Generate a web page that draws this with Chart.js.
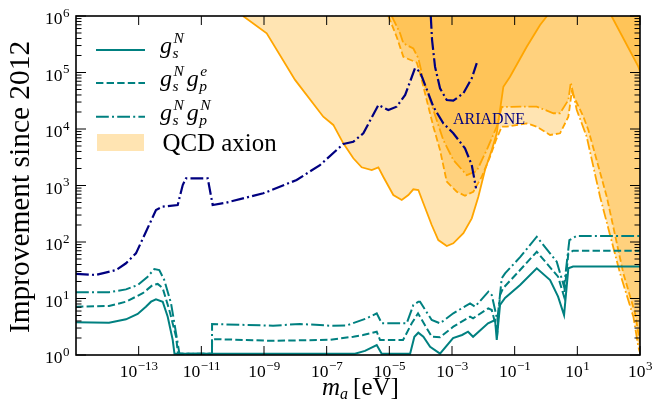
<!DOCTYPE html>
<html>
<head>
<meta charset="utf-8">
<script src="https://cdn.jsdelivr.net/npm/chart.js@4.4.0/dist/chart.umd.min.js"></script>
<style>
  html, body { margin: 0; padding: 0; background: #fff; }
  canvas { display: block; }
</style>
</head>
<body>
<canvas id="chart" width="655" height="407" style="width:655px;height:407px"></canvas>
<script>
// axis ranges and ticks
const massRange = [1e-15, 1e3];
const improveRange = [1, 1e6];
const xTickExps = [-13, -11, -9, -7, -5, -3, -1, 1, 3];
const yTickExps = [0, 1, 2, 3, 4, 5, 6];

// g_s^N (teal solid)
const gsMass = [1e-15, 1.13e-14, 3.94e-14, 9.3e-14, 1.7e-13, 2.48e-13, 3.57e-13, 5.85e-13, 8.45e-13, 1.22e-12, 1.39e-12,
  8.0e-7, 1.67e-6, 3.96e-6, 5.7e-6, 3.2e-5, 4.6e-5, 6.3e-5, 8.4e-5, 1.22e-4, 2.0e-4, 4.15e-4, 1.08e-3, 2.1e-3, 3.25e-3,
  4.7e-3, 0.0141, 0.0237, 0.0268, 0.0341, 0.0493, 0.149, 0.507, 1.35, 2.43, 3.77, 5.17, 7.31, 1000];
const gsVal = [3.79, 3.73, 4.28, 5.32, 7.16, 8.78, 9.7, 8.78, 4.76, 1.85, 1.05,
  1.05, 1.18, 1.5, 1.05, 1.05, 1.05, 2.1, 2.48, 2.1, 1.4, 1.06, 2.0, 2.26, 2.58,
  2.1, 3.64, 4.16, 1.85, 7.7, 10.2, 17.3, 34.2, 21.2, 10.8, 5.1, 34.2, 36.8, 36.8];

// g_s^N g_p^e (teal dashed)
const gsgpeMass = [1e-15, 1.13e-14, 3.94e-14, 1.35e-13, 2.79e-13, 4.05e-13, 5.85e-13, 9.5e-13, 1.56e-12, 1.8e-12,
  2.19e-11, 2.2e-11, 3.94e-11, 1.94e-9, 1.28e-7, 7.1e-7, 1.45e-6, 3.96e-6, 5.05e-6, 2.74e-5, 5.19e-5, 8.24e-5, 9.55e-5,
  2.25e-4, 4.15e-4, 1.1e-3, 3.77e-3, 4.7e-3, 0.0145, 0.0186, 0.028, 0.0341, 0.0426, 0.149, 0.507, 2.43, 3.77, 5.17, 7.31, 1000];
const gsgpeVal = [7.16, 7.36, 8.78, 12.4, 17.3, 18.1, 15.2, 6.26, 2.11, 1.05,
  1.05, 1.9, 1.9, 1.78, 1.86, 2.11, 2.26, 2.58, 1.84, 1.84, 3.64, 5.47, 4.76,
  2.11, 2.06, 3.17, 4.76, 4.46, 6.7, 6.26, 2.58, 11.5, 15.2, 31.9, 67.3, 24.3, 10.8, 63, 70.2, 70.2];

// g_s^N g_p^N (teal dash-dot)
const gsgpnMass = [1e-15, 1.13e-14, 3.94e-14, 9.3e-14, 1.94e-13, 3.16e-13, 4.56e-13, 6.58e-13, 1.08e-12, 1.56e-12, 2.0e-12,
  2.19e-11, 2.2e-11, 1.94e-9, 1.41e-8, 1.28e-7, 4.36e-7, 1.9e-6, 3.96e-6, 5.7e-6, 3.59e-5, 5.83e-5, 8.43e-5, 9.55e-5,
  2.25e-4, 4.15e-4, 1.1e-3, 3.77e-3, 5.44e-3, 0.0145, 0.0186, 0.028, 0.0387, 0.0493, 0.149, 0.507, 2.2, 3.77, 5.57, 9.6, 1000];
const gsgpnVal = [12.9, 12.9, 14.5, 17.3, 24.3, 33.3, 31.9, 21.2, 8.2, 2.42, 1.05,
  1.05, 3.54, 3.3, 3.54, 3.3, 3.33, 4.46, 5.47, 3.64, 3.64, 7.67, 8.78, 8.78,
  4.16, 3.64, 5.47, 8.2, 7.16, 13.2, 11.5, 4.16, 22.8, 27.9, 54, 124, 44.8, 16.2, 108, 128, 128];

// ARIADNE projection (navy dash-dot), two branches
const ariadneMass = [1e-15, 4.35e-15, 1.89e-14, 3.94e-14, 8.2e-14, 1.71e-13, 3.57e-13, 5.85e-13, 1.76e-12, 2.55e-12, 3.24e-12,
  1.6e-11, 2.3e-11, 6.1e-11, 9.5e-10, 1.1e-8, 6.1e-8, 3.4e-7, 7.1e-7, 1.48e-6, 4.47e-6, 9.3e-6, 1.71e-5, 3.2e-5,
  6.6e-5, 9.55e-5, 2.54e-4, 5.28e-4, 1.1e-3, 2.6e-3, 4.27e-3, 5.85e-3];
const ariadneVal = [27.2, 26.1, 31.9, 42, 63, 152, 368, 422, 452, 1020, 1340,
  1340, 452, 496, 728, 1250, 2300, 5430, 5960, 8400, 26600, 21700, 24800, 40000,
  119000, 103000, 24800, 12600, 8400, 4550, 2300, 891];
const ariadne2Mass = [2.1e-4, 2.31e-4, 2.87e-4, 4.15e-4, 6.8e-4, 1.1e-3, 2.31e-3, 4.27e-3, 6.17e-3];
const ariadne2Val = [1e6, 3.76e5, 1.27e5, 5.25e4, 3.26e4, 3.17e4, 4.29e4, 7.9e4, 1.46e5];

// QCD axion regions (boundaries, filled upward)
const qcdSMass = [2.14e-10, 1.22e-9, 9.8e-9, 7.8e-8, 1.63e-7, 3.4e-7, 7.1e-7, 1.31e-6, 2.74e-6, 4.47e-6, 6.4e-6,
  1.34e-5, 2.49e-5, 4.05e-5, 5.83e-5, 8.43e-5, 1.22e-4, 2.25e-4, 3.66e-4, 6.8e-4, 1.1e-3, 2.31e-3, 4.27e-3,
  6.93e-3, 0.0113, 0.0186, 0.0268, 0.0341, 0.0436, 0.071, 0.243, 0.646, 1.08];
const qcdSVal = [1e6, 4.94e5, 7.4e4, 1.65e4, 1.18e4, 5580, 3030, 2100, 1880, 2100, 1430,
  679, 554, 679, 857, 832, 484, 200, 108, 85, 94.8, 143, 262,
  634, 1880, 4250, 8400, 21700, 56000, 84000, 286000, 693000, 1e6];
const qcdS2Mass = [123, 885, 1000];
const qcdS2Val = [1e6, 1.27e5, 1.04e5];
const qcdDMass = [9.3e-6, 1.71e-5, 2.8e-5, 3.59e-5, 7.5e-5, 9.55e-5, 1.56e-4, 2.54e-4, 4.15e-4, 6.8e-4, 1.42e-3,
  2.6e-3, 4.8e-3, 8.9e-3, 0.0164, 0.0254, 0.0387, 0.0555, 0.243, 0.507, 1.35, 2.81, 5.17, 6.64, 15.6, 22.5, 86.9,
  294, 695, 1000];
const qcdDVal = [1e6, 4.3e5, 1.9e5, 1.78e5, 1.5e5, 9.7e4, 3.26e4, 1.1e4, 4250, 1170, 776,
  660, 776, 1430, 3240, 6380, 1.1e4, 1.1e4, 1.26e4, 1.1e4, 7830, 8400, 1.65e4, 4.52e4, 1.65e4, 9600, 634,
  27.9, 5.47, 1.61];
const qcdDDMass = [1.19e-5, 2.2e-5, 2.8e-5, 5.83e-5, 8.43e-5, 1.22e-4, 2.54e-4, 5.28e-4, 1.1e-3, 2.95e-3, 6.17e-3,
  0.0128, 0.0268, 0.0387, 0.149, 0.507, 1.72, 2.81, 5.17, 6.18, 9.6, 19.9, 53.1, 231, 614, 885, 1000];
const qcdDDVal = [1e6, 4.94e5, 3.29e5, 2.66e5, 1.78e5, 7.4e4, 2.17e4, 6380, 2830, 1530, 1810,
  4250, 1.1e4, 2.45e4, 2.48e4, 2.48e4, 1.9e4, 1.9e4, 3.26e4, 6.65e4, 2.17e4, 7300, 634, 27.9, 4.76, 1.4, 1.1];

const TEAL = "#008080";
const NAVY = "#000080";
const ORANGE = "#FFA500";
const QCD_FILL = "rgba(255,165,0,0.3)";
const SERIF = '"Liberation Serif", "DejaVu Serif", serif';

const DASHED = [7.4, 3.2];
const DASHDOT = [12.8, 3.2, 2, 3.2];

function pts(xs, ys) {
  return xs.map((x, i) => ({ x: x, y: ys[i] }));
}

function lineSet(xs, ys, color, dash, width, fill) {
  return {
    data: pts(xs, ys),
    borderColor: color,
    borderWidth: width,
    borderDash: dash,
    fill: fill ? "end" : false,
    backgroundColor: fill ? QCD_FILL : "transparent",
    pointRadius: 0,
    tension: 0,
  };
}

function drawPow(ctx, exp, x, y, align) {
  const base = "10";
  const sup = exp < 0 ? "\u2212" + Math.abs(exp) : String(exp);
  ctx.font = "17.5px " + SERIF;
  const wb = ctx.measureText(base).width;
  ctx.font = "13px " + SERIF;
  const ws = ctx.measureText(sup).width;
  let x0 = align === "center" ? x - (wb + ws) / 2 : x - wb - ws;
  ctx.textAlign = "left";
  ctx.font = "17.5px " + SERIF;
  ctx.fillText(base, x0, y);
  ctx.font = "13px " + SERIF;
  ctx.fillText(sup, x0 + wb + 0.5, y - 7.5);
}

function fitFont(ctx, text, width, style) {
  ctx.font = style + "20px " + SERIF;
  const w = ctx.measureText(text).width;
  return (20 * width) / w;
}

function drawCoupling(ctx, x, base, factors) {
  factors.forEach(([sub, sup]) => {
    ctx.font = "italic 24px " + SERIF;
    ctx.fillText("g", x, base);
    x += ctx.measureText("g").width + 0.5;
    ctx.font = "italic 15.5px " + SERIF;
    ctx.fillText(sub, x, base + 5);
    ctx.fillText(sup, x + 1, base - 10);
    x += Math.max(ctx.measureText(sub).width, ctx.measureText(sup).width + 1) + 3;
  });
}

const decor = {
  id: "decor",
  afterDraw(chart) {
    const ctx = chart.ctx;
    const a = chart.chartArea;
    const xs = chart.scales.x;
    const ys = chart.scales.y;
    ctx.save();
    ctx.fillStyle = "#000";
    ctx.strokeStyle = "#000";

    // frame
    ctx.lineWidth = 1.6;
    ctx.setLineDash([]);
    ctx.strokeRect(a.left, a.top, a.right - a.left, a.bottom - a.top);

    // inward ticks
    ctx.lineWidth = 1;
    ctx.beginPath();
    yTickExps.forEach((e) => {
      const py = ys.getPixelForValue(Math.pow(10, e));
      ctx.moveTo(a.left, py); ctx.lineTo(a.left + 10, py);
      ctx.moveTo(a.right, py); ctx.lineTo(a.right - 10, py);
      if (e < 6) {
        for (let k = 2; k <= 9; k++) {
          const pm = ys.getPixelForValue(k * Math.pow(10, e));
          ctx.moveTo(a.left, pm); ctx.lineTo(a.left + 5.5, pm);
          ctx.moveTo(a.right, pm); ctx.lineTo(a.right - 5.5, pm);
        }
      }
    });
    xTickExps.forEach((e) => {
      const px = xs.getPixelForValue(Math.pow(10, e));
      ctx.moveTo(px, a.bottom); ctx.lineTo(px, a.bottom - 9);
      ctx.moveTo(px, a.top); ctx.lineTo(px, a.top + 9);
    });
    ctx.stroke();

    // tick labels
    ctx.textBaseline = "alphabetic";
    yTickExps.forEach((e) => {
      const py = ys.getPixelForValue(Math.pow(10, e));
      drawPow(ctx, e, 69, py + 8, "right");
    });
    xTickExps.forEach((e) => {
      const px = xs.getPixelForValue(Math.pow(10, e));
      drawPow(ctx, e, px, a.bottom + 22, "center");
    });

    // y axis title
    const yTitle = "Improvement since 2012";
    const ySize = fitFont(ctx, yTitle, 292, "");
    ctx.save();
    ctx.translate(29, 187);
    ctx.rotate(-Math.PI / 2);
    ctx.font = ySize.toFixed(1) + "px " + SERIF;
    ctx.textAlign = "center";
    ctx.fillText(yTitle, 0, 0);
    ctx.restore();

    // x axis title: m_a [eV]
    ctx.textAlign = "left";
    let tx = 322;
    ctx.font = "italic 25px " + SERIF;
    ctx.fillText("m", tx, 395);
    tx += ctx.measureText("m").width;
    ctx.font = "italic 16px " + SERIF;
    ctx.fillText("a", tx, 399);
    tx += ctx.measureText("a").width + 5;
    ctx.font = "25px " + SERIF;
    ctx.fillText("[eV]", tx, 395);

    // legend
    const rows = [
      { y: 50, dash: [], base: 53, factors: [["s", "N"]] },
      { y: 83, dash: DASHED, base: 86, factors: [["s", "N"], ["p", "e"]] },
      { y: 116.7, dash: DASHDOT, base: 120, factors: [["s", "N"], ["p", "N"]] },
    ];
    rows.forEach((r) => {
      ctx.strokeStyle = TEAL;
      ctx.lineWidth = 2;
      ctx.setLineDash(r.dash);
      ctx.beginPath();
      ctx.moveTo(96, r.y);
      ctx.lineTo(145, r.y);
      ctx.stroke();
      ctx.setLineDash([]);
      ctx.fillStyle = "#000";
      drawCoupling(ctx, 160, r.base, r.factors);
    });
    ctx.fillStyle = QCD_FILL;
    ctx.fillRect(97, 134, 47, 17);
    ctx.fillStyle = "#000";
    const qSize = fitFont(ctx, "QCD axion", 114, "");
    ctx.font = qSize.toFixed(1) + "px " + SERIF;
    ctx.fillText("QCD axion", 162.5, 150.5);

    // ARIADNE label
    ctx.fillStyle = NAVY;
    const aSize = fitFont(ctx, "ARIADNE", 72, "");
    ctx.font = aSize.toFixed(1) + "px " + SERIF;
    ctx.fillText("ARIADNE", 453, 124);

    ctx.restore();
  },
};

document.addEventListener("DOMContentLoaded", () => {
  const ctx = document.getElementById("chart").getContext("2d");
  new Chart(ctx, {
    type: "line",
    data: {
      datasets: [
        lineSet(gsMass, gsVal, TEAL, [], 2, false),
        lineSet(gsgpeMass, gsgpeVal, TEAL, DASHED, 2, false),
        lineSet(gsgpnMass, gsgpnVal, TEAL, DASHDOT, 2, false),
        lineSet(ariadneMass, ariadneVal, NAVY, DASHDOT, 2.2, false),
        lineSet(ariadne2Mass, ariadne2Val, NAVY, DASHDOT, 2.2, false),
        lineSet(qcdDDMass, qcdDDVal, ORANGE, [10.8, 2.7, 1.7, 2.7], 1.8, true),
        lineSet(qcdDMass, qcdDVal, ORANGE, [6.6, 2.9], 1.8, true),
        lineSet(qcdS2Mass, qcdS2Val, ORANGE, [], 1.8, true),
        lineSet(qcdSMass, qcdSVal, ORANGE, [], 1.8, true),
      ],
    },
    options: {
      responsive: false,
      animation: false,
      layout: { padding: { left: 76, right: 15, top: 16, bottom: 52 } },
      scales: {
        x: { type: "logarithmic", min: massRange[0], max: massRange[1], display: false },
        y: { type: "logarithmic", min: improveRange[0], max: improveRange[1], display: false },
      },
      plugins: { legend: { display: false }, tooltip: { enabled: false } },
    },
    plugins: [decor],
  });
});
</script>
</body>
</html>
